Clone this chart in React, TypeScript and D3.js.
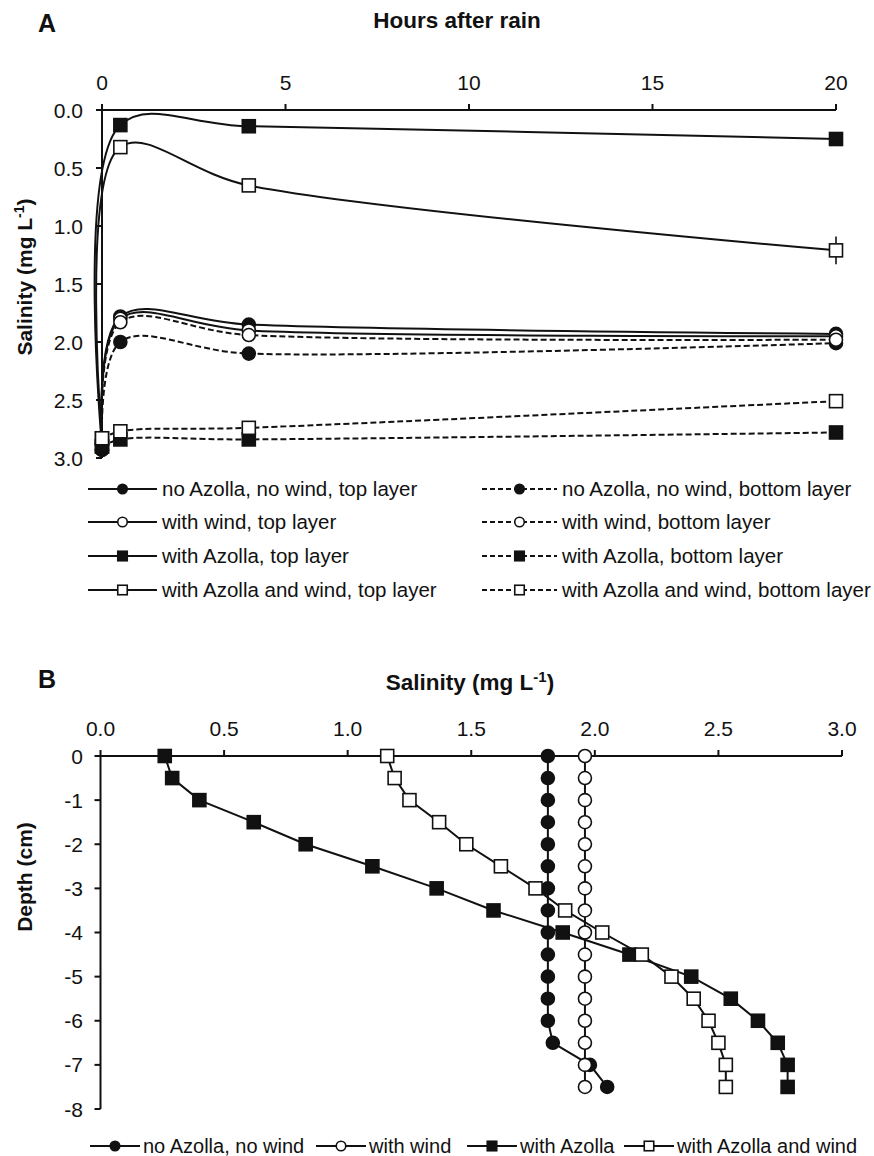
import * as d3 from 'd3'

// ---- panel A: salinity vs hours after rain ----
const hours = [0, 0.5, 4, 20]
const noAzNoWindTop = [2.93, 1.78, 1.85, 1.93]
const windTop = [2.88, 1.8, 1.9, 1.95]
const azTop = [2.9, 0.13, 0.14, 0.25]
const azWindTop = [2.83, 0.32, 0.65, 1.21]
const azWindTopErr = [0, 0, 0, 0.12]
const noAzNoWindBottom = [2.93, 2.0, 2.1, 2.01]
const windBottom = [2.88, 1.83, 1.94, 1.98]
const azBottom = [2.9, 2.84, 2.84, 2.78]
const azWindBottom = [2.83, 2.77, 2.74, 2.51]
const hourTicks = [0, 5, 10, 15, 20]
const salinityTicksA = [0, 0.5, 1, 1.5, 2, 2.5, 3]

// ---- panel B: salinity profile vs depth ----
const depths = [0, -0.5, -1, -1.5, -2, -2.5, -3, -3.5, -4, -4.5, -5, -5.5, -6, -6.5, -7, -7.5]
const noAzNoWindProfile = [1.81, 1.81, 1.81, 1.81, 1.81, 1.81, 1.81, 1.81, 1.81, 1.81, 1.81, 1.81, 1.81, 1.83, 1.98, 2.05]
const windProfile = [1.96, 1.96, 1.96, 1.96, 1.96, 1.96, 1.96, 1.96, 1.96, 1.96, 1.96, 1.96, 1.96, 1.96, 1.96, 1.96]
const azProfile = [0.26, 0.29, 0.4, 0.62, 0.83, 1.1, 1.36, 1.59, 1.87, 2.14, 2.39, 2.55, 2.66, 2.74, 2.78, 2.78]
const azWindProfile = [1.16, 1.19, 1.25, 1.37, 1.48, 1.62, 1.76, 1.88, 2.03, 2.19, 2.31, 2.4, 2.46, 2.5, 2.53, 2.53]
const salinityTicksB = [0, 0.5, 1, 1.5, 2, 2.5, 3]
const depthTicks = [0, -1, -2, -3, -4, -5, -6, -7, -8]

const seriesA = [
  { label: 'no Azolla, no wind, top layer', values: noAzNoWindTop, shape: 'circle', filled: true, dashed: false },
  { label: 'with wind, top layer', values: windTop, shape: 'circle', filled: false, dashed: false },
  { label: 'with Azolla, top layer', values: azTop, shape: 'square', filled: true, dashed: false },
  { label: 'with Azolla and wind, top layer', values: azWindTop, shape: 'square', filled: false, dashed: false, err: azWindTopErr },
  { label: 'no Azolla, no wind, bottom layer', values: noAzNoWindBottom, shape: 'circle', filled: true, dashed: true },
  { label: 'with wind, bottom layer', values: windBottom, shape: 'circle', filled: false, dashed: true },
  { label: 'with Azolla, bottom layer', values: azBottom, shape: 'square', filled: true, dashed: true },
  { label: 'with Azolla and wind, bottom layer', values: azWindBottom, shape: 'square', filled: false, dashed: true },
]

const seriesB = [
  { label: 'no Azolla, no wind', values: noAzNoWindProfile, shape: 'circle', filled: true },
  { label: 'with wind', values: windProfile, shape: 'circle', filled: false },
  { label: 'with Azolla', values: azProfile, shape: 'square', filled: true },
  { label: 'with Azolla and wind', values: azWindProfile, shape: 'square', filled: false },
]

const font = '"Liberation Sans", Arial, sans-serif'
const ink = '#111'

function Marker({ shape, filled, x, y, size }: any) {
  const fill = filled ? ink : '#fff'
  if (shape === 'circle')
    return <circle cx={x} cy={y} r={size / 2} fill={fill} stroke={ink} strokeWidth={1.6} />
  return <rect x={x - size / 2} y={y - size / 2} width={size} height={size} fill={fill} stroke={ink} strokeWidth={1.6} />
}

const App = () => {
  // panel A scales
  const xA = d3.scaleLinear().domain([0, 20]).range([102, 836])
  const yA = d3.scaleLinear().domain([0, 3]).range([110, 458])
  const lineA = d3
    .line<number>()
    .x((_, i) => xA(hours[i]))
    .y((d) => yA(d))
    .curve(d3.curveCatmullRom.alpha(0.5))

  // panel B scales
  const xB = d3.scaleLinear().domain([0, 3]).range([100.5, 842])
  const yB = d3.scaleLinear().domain([0, -8]).range([756, 1109])
  const lineB = d3
    .line<number>()
    .x((d) => xB(d))
    .y((_, i) => yB(depths[i]))

  const legendRowsA = [489, 522, 556, 590]
  const legendBx = [90, 316, 467, 624]

  return (
    <svg
      width={874}
      height={1156}
      style={{ position: 'absolute', left: 0, top: 0, background: '#fff' }}
      fontFamily={font}
      fill={ink}
    >
      {/* ---------- panel A ---------- */}
      <text x={38} y={32} fontSize={25} fontWeight="bold">A</text>
      <text x={457} y={28} fontSize={22.5} fontWeight="bold" textAnchor="middle">Hours after rain</text>
      <text transform="translate(32,277) rotate(-90)" fontSize={21} fontWeight="bold" textAnchor="middle">
        Salinity (mg L<tspan dy={-8} fontSize={14}>-1</tspan><tspan dy={8}>)</tspan>
      </text>

      <g stroke={ink} strokeWidth={2}>
        <line x1={xA(0)} x2={xA(20)} y1={yA(0)} y2={yA(0)} />
        <line x1={xA(0)} x2={xA(0)} y1={yA(0)} y2={yA(3)} />
        {hourTicks.map((t) => (
          <line key={t} x1={xA(t)} x2={xA(t)} y1={yA(0)} y2={yA(0) - 6} />
        ))}
        {salinityTicksA.map((t) => (
          <line key={t} x1={xA(0) - 6} x2={xA(0)} y1={yA(t)} y2={yA(t)} />
        ))}
      </g>
      {hourTicks.map((t) => (
        <text key={t} x={xA(t)} y={90} fontSize={21} textAnchor="middle">{t}</text>
      ))}
      {salinityTicksA.map((t) => (
        <text key={t} x={83} y={yA(t)} dy="0.36em" fontSize={21} textAnchor="end">{t.toFixed(1)}</text>
      ))}

      {seriesA.map((s) => (
        <g key={s.label}>
          <path d={lineA(s.values) || ''} fill="none" stroke={ink} strokeWidth={2} strokeDasharray={s.dashed ? '6,3' : undefined} />
          {s.err &&
            s.values.map((v, i) =>
              s.err[i] > 0 ? (
                <line key={i} x1={xA(hours[i])} x2={xA(hours[i])} y1={yA(v - s.err[i])} y2={yA(v + s.err[i])} stroke={ink} strokeWidth={1.6} />
              ) : null
            )}
          {s.values.map((v, i) => (
            <Marker key={i} shape={s.shape} filled={s.filled} x={xA(hours[i])} y={yA(v)} size={13} />
          ))}
        </g>
      ))}

      {/* legend A */}
      {seriesA.map((s, i) => {
        const col = i < 4 ? 0 : 1
        const y = legendRowsA[i % 4]
        const x0 = col === 0 ? 88 : 482
        const x1 = col === 0 ? 157 : 557
        return (
          <g key={s.label}>
            <line x1={x0} x2={x1} y1={y} y2={y} stroke={ink} strokeWidth={2} strokeDasharray={s.dashed ? '5,3' : undefined} />
            <Marker shape={s.shape} filled={s.filled} x={(x0 + x1) / 2} y={y} size={9.5} />
            <text x={x1 + 5} y={y} dy="0.36em" fontSize={20.5}>{s.label}</text>
          </g>
        )
      })}

      {/* ---------- panel B ---------- */}
      <text x={38} y={688} fontSize={25} fontWeight="bold">B</text>
      <text x={470} y={690} fontSize={22.5} fontWeight="bold" textAnchor="middle">
        Salinity (mg L<tspan dy={-8} fontSize={15}>-1</tspan><tspan dy={8}>)</tspan>
      </text>
      <text transform="translate(32,877) rotate(-90)" fontSize={21} fontWeight="bold" textAnchor="middle">Depth (cm)</text>

      <g stroke={ink} strokeWidth={2}>
        <line x1={xB(0)} x2={xB(3)} y1={yB(0)} y2={yB(0)} />
        <line x1={xB(0)} x2={xB(0)} y1={yB(0)} y2={yB(-8)} />
        {salinityTicksB.map((t) => (
          <line key={t} x1={xB(t)} x2={xB(t)} y1={yB(0)} y2={yB(0) - 6} />
        ))}
        {depthTicks.map((t) => (
          <line key={t} x1={xB(0) - 6} x2={xB(0)} y1={yB(t)} y2={yB(t)} />
        ))}
      </g>
      {salinityTicksB.map((t) => (
        <text key={t} x={xB(t)} y={736} fontSize={21} textAnchor="middle">{t.toFixed(1)}</text>
      ))}
      {depthTicks.map((t) => (
        <text key={t} x={83} y={yB(t)} dy="0.36em" fontSize={21} textAnchor="end">{String(t)}</text>
      ))}

      {seriesB.map((s) => (
        <g key={s.label}>
          <path d={lineB(s.values) || ''} fill="none" stroke={ink} strokeWidth={2} />
          {s.values.map((v, i) => (
            <Marker key={i} shape={s.shape} filled={s.filled} x={xB(v)} y={yB(depths[i])} size={13} />
          ))}
        </g>
      ))}

      {/* legend B */}
      {seriesB.map((s, i) => {
        const x0 = legendBx[i]
        const x1 = x0 + 50
        const y = 1146
        return (
          <g key={s.label}>
            <line x1={x0} x2={x1} y1={y} y2={y} stroke={ink} strokeWidth={2} />
            <Marker shape={s.shape} filled={s.filled} x={(x0 + x1) / 2} y={y} size={9.5} />
            <text x={x1 + 3} y={y} dy="0.36em" fontSize={20}>{s.label}</text>
          </g>
        )
      })}
    </svg>
  )
}

export default App
